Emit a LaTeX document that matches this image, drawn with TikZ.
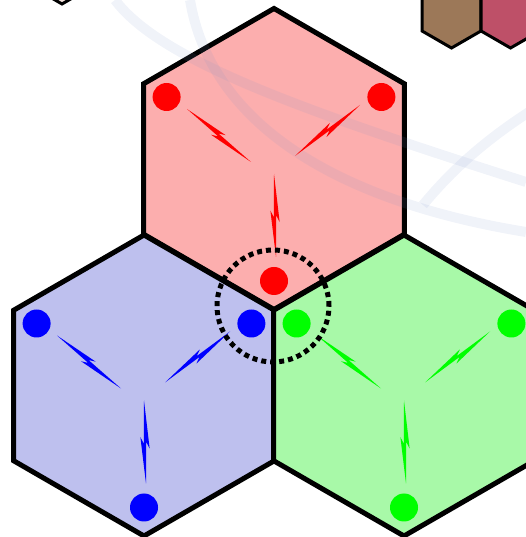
\documentclass[tikz,border=0pt]{standalone}
\usetikzlibrary{calc}
\definecolor{cellred}{RGB}{252,174,174}
\definecolor{cellblue}{RGB}{190,192,238}
\definecolor{cellgreen}{RGB}{168,249,168}
\definecolor{tilebrown}{RGB}{156,120,88}
\definecolor{tilepink}{RGB}{190,80,104}
\definecolor{tilepale}{RGB}{245,228,222}
\definecolor{swoosh}{RGB}{120,145,200}
% lightning bolt between two points
\newcommand{\zap}[3]{\fill[#1] (#2) -- ($(#2)!0.58!(#3)!4.5pt!90:(#3)$) -- ($(#2)!0.5!(#3)!1.2pt!90:(#3)$) -- (#3) -- ($(#2)!0.44!(#3)!4.5pt!-90:(#3)$) -- ($(#2)!0.52!(#3)!1.2pt!-90:(#3)$) -- cycle;}

\begin{document}
\begin{tikzpicture}[x=1pt,y=1pt,
  hexcell/.style={draw=black,line width=5pt,line join=miter},
  tile/.style={draw=black,line width=3pt,fill=#1},
  ue/.style={circle,fill=#1,inner sep=0pt,minimum size=28pt},
  swoop/.style={draw=swoosh,line width=10pt,opacity=0.11}]
\useasboundingbox (0,0) rectangle (526,537);
\clip (0,0) rectangle (526,537);
% tiles in the corners
\foreach \tx/\ty/\tc in {62/567/tilepale,451.5/523/tilebrown,510.5/523/tilepink}
 {\draw[tile=\tc] (\tx,\ty) +(90:34) -- +(150:34) -- +(210:34) -- +(270:34) -- +(330:34) -- +(30:34) -- cycle;}
% the three cells
\foreach \cell/\cx/\cy/\fc in {r/274/378/cellred,b/144/151.5/cellblue,g/404/151.5/cellgreen}
 {\coordinate (\cell) at (\cx,\cy);
  \draw[hexcell,fill=\fc] (\cell) +(90:150.5) -- +(150:150.5) -- +(210:150.5) -- +(270:150.5) -- +(330:150.5) -- +(30:150.5) -- cycle;}
% faint swooshes behind
\draw[swoop] (115,537) .. controls (160,477) and (300,427) .. (526,355);
\draw[swoop] (190,537) .. controls (210,417) and (330,337) .. (526,305);
\draw[swoop] (423,332) .. controls (460,377) and (500,407) .. (540,432);
% users and links
\foreach \cell/\uc in {r/red,b/blue,g/green}
 {\node[ue=\uc] (\cell-ul) at ($(\cell)+(150:124)$) {};
  \node[ue=\uc] (\cell-ur) at ($(\cell)+(30:124)$) {};
  \node[ue=\uc] (\cell-dn) at ($(\cell)+(270:122)$) {};
  \coordinate (\cell-a0) at ($(\cell)+(-23,-3)$);
  \coordinate (\cell-a1) at ($(\cell)+(-87,50)$);
  \coordinate (\cell-b0) at ($(\cell)+(21,3)$);
  \coordinate (\cell-b1) at ($(\cell)+(86,54)$);
  \coordinate (\cell-c0) at ($(\cell)+(0,-15)$);
  \coordinate (\cell-c1) at ($(\cell)+(2,-98)$);
  \zap{\uc}{\cell-a0}{\cell-a1}
  \zap{\uc}{\cell-b0}{\cell-b1}
  \zap{\uc}{\cell-c0}{\cell-c1}}
% cell edge users
\node[draw,circle,line width=5pt,dash pattern=on 5pt off 4pt,inner sep=0pt,minimum size=112pt] (edge) at (273,231) {};
\end{tikzpicture}
\end{document}
